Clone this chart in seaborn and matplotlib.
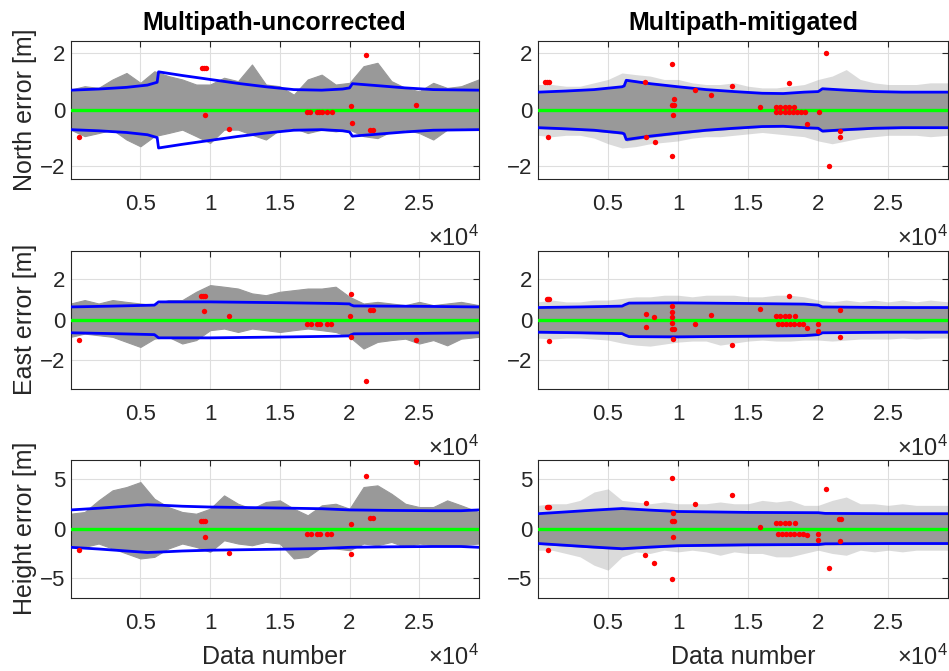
"""
GNSS positioning error: multipath-uncorrected vs multipath-mitigated
"""

import seaborn as sns
import matplotlib.pyplot as plt

# Sample positions where the spread of the gray error cloud was read
grid_x = [0, 1000, 2000, 3000, 4000, 5000, 6000, 7000, 8000, 9000,
          10000, 11000, 12000, 13000, 14000, 15000, 16000, 17000, 18000, 19000,
          20000, 21000, 22000, 23000, 24000, 25000, 26000, 27000, 28000, 29260]

# Gray cloud upper / lower edge [m]
north_unc_hi = [0.72, 0.84, 0.78, 1.08, 1.31, 0.96, 1.37, 1.20, 1.08, 0.90,
                0.90, 1.14, 1.02, 1.61, 0.90, 0.84, 0.54, 1.08, 1.25, 0.90,
                0.96, 1.55, 1.67, 1.02, 0.78, 0.66, 0.96, 0.78, 0.84, 1.08]
north_unc_lo = [-0.70, -0.93, -0.82, -0.70, -1.05, -1.29, -0.93, -0.82, -0.70, -0.93,
                -1.17, -0.70, -0.70, -0.88, -1.05, -0.70, -0.64, -0.82, -0.70, -0.76,
                -0.70, -0.93, -1.00, -0.76, -0.70, -0.82, -1.05, -0.70, -0.64, -0.70]
north_mit_hi = [0.90, 0.90, 0.84, 0.84, 0.96, 1.08, 1.31, 1.25, 1.20, 1.08,
                1.08, 0.96, 0.90, 0.90, 0.96, 0.84, 0.78, 0.78, 0.84, 0.90,
                1.08, 1.20, 1.43, 1.08, 0.96, 0.90, 0.90, 0.90, 0.96, 0.96]
north_mit_lo = [-0.90, -0.95, -0.90, -0.90, -1.00, -1.20, -1.35, -1.30, -1.20, -1.15,
                -1.10, -1.00, -0.95, -0.95, -0.90, -0.85, -0.80, -0.85, -0.90, -0.95,
                -1.10, -1.20, -1.10, -1.00, -0.95, -0.90, -0.90, -0.90, -0.95, -0.90]
east_unc_hi = [0.81, 0.98, 0.81, 0.98, 0.89, 0.81, 0.73, 0.98, 0.98, 1.39,
               1.72, 1.64, 1.55, 1.31, 1.22, 1.39, 1.47, 1.55, 1.55, 1.64,
               1.14, 0.81, 0.89, 0.81, 0.73, 0.89, 0.73, 0.81, 0.89, 0.73]
east_unc_lo = [-0.84, -0.68, -0.76, -0.84, -1.09, -1.34, -0.93, -0.84, -1.17, -1.00,
               -0.51, -0.43, -0.60, -0.43, -0.51, -0.60, -0.51, -0.43, -0.51, -0.60,
               -0.84, -1.42, -1.09, -1.00, -0.93, -1.17, -1.00, -1.26, -0.93, -0.84]
east_mit_hi = [0.89, 0.98, 0.89, 0.89, 0.98, 0.98, 1.06, 1.14, 1.14, 1.22,
               1.22, 1.14, 1.22, 1.22, 1.22, 1.14, 1.14, 1.22, 1.22, 1.14,
               0.98, 0.89, 0.98, 0.89, 0.98, 0.89, 0.98, 0.89, 0.98, 0.89]
east_mit_lo = [-0.90, -0.95, -0.90, -0.90, -0.95, -1.00, -1.15, -1.25, -1.30, -1.20,
               -1.10, -1.05, -1.05, -1.25, -1.15, -1.05, -1.00, -1.05, -1.05, -1.00,
               -1.00, -1.05, -1.00, -0.95, -0.95, -0.95, -0.90, -0.95, -0.90, -0.90]
height_unc_hi = [1.50, 1.67, 2.84, 3.85, 4.18, 4.68, 3.00, 2.17, 1.67, 1.50,
                 2.00, 3.34, 2.50, 2.00, 2.68, 2.84, 2.00, 1.34, 2.34, 2.50,
                 2.00, 4.18, 4.35, 3.51, 2.50, 2.17, 2.17, 2.84, 2.34, 1.67]
height_unc_lo = [-1.67, -1.84, -1.50, -2.00, -2.50, -3.00, -2.84, -2.00, -1.50, -1.84,
                 -2.34, -1.17, -1.50, -1.67, -1.34, -1.50, -3.00, -2.84, -1.84, -2.00,
                 -2.17, -1.50, -1.67, -1.34, -1.84, -1.50, -1.67, -1.67, -1.67, -1.50]
height_mit_hi = [2.34, 2.50, 2.50, 2.84, 3.68, 4.00, 2.84, 2.68, 2.50, 2.68,
                 2.50, 2.50, 2.50, 2.68, 2.50, 2.50, 2.84, 2.68, 2.84, 2.34,
                 2.34, 2.84, 3.18, 2.50, 2.50, 2.34, 2.50, 2.34, 2.34, 2.34]
height_mit_lo = [-2.17, -2.17, -2.50, -2.84, -3.68, -4.18, -2.84, -2.34, -2.50, -2.17,
                 -2.34, -2.17, -2.34, -2.68, -2.34, -2.50, -2.50, -2.84, -2.84, -2.50,
                 -2.17, -2.50, -2.68, -2.17, -2.34, -2.17, -2.34, -2.17, -2.17, -2.17]

# Protection bound (blue, +/-) knots
north_unc_bx = [0, 2000, 4000, 5500, 6200, 6300, 8000, 10000, 12000, 14000,
                16000, 18000, 19500, 20000, 20200, 22000, 24000, 26000, 29260]
north_unc_b = [0.70, 0.74, 0.80, 0.88, 0.98, 1.35, 1.22, 1.08, 0.94, 0.82,
               0.72, 0.70, 0.74, 0.78, 0.93, 0.86, 0.78, 0.72, 0.70]
north_mit_bx = [0, 2000, 4000, 6000, 6150, 6300, 8000, 10000, 12000, 14000,
                16000, 17500, 19000, 20000, 20150, 20300, 22000, 24000, 26000, 29260]
north_mit_b = [0.63, 0.67, 0.72, 0.82, 0.85, 1.05, 0.93, 0.82, 0.72, 0.65,
               0.59, 0.58, 0.63, 0.65, 0.70, 0.75, 0.70, 0.65, 0.63, 0.63]
east_unc_bx = [0, 3000, 6000, 6100, 6300, 10000, 15000, 19000, 20000, 20100,
               20300, 25000, 29260]
east_unc_b = [0.64, 0.68, 0.73, 0.78, 0.89, 0.89, 0.85, 0.81, 0.79, 0.74,
              0.69, 0.67, 0.64]
east_mit_bx = [0, 3000, 6000, 6200, 6500, 10000, 15000, 19000, 20000, 20300,
               25000, 29260]
east_mit_b = [0.61, 0.64, 0.68, 0.75, 0.83, 0.84, 0.81, 0.78, 0.73, 0.64,
              0.61, 0.61]
height_unc_bx = [0, 2000, 4000, 5500, 6500, 8000, 10000, 15000, 18000, 20000,
                 23000, 26000, 28000, 29260]
height_unc_b = [1.88, 2.05, 2.25, 2.40, 2.35, 2.25, 2.17, 2.07, 2.00, 1.88,
                1.83, 1.80, 1.80, 1.88]
height_mit_bx = [0, 2000, 4000, 6000, 8000, 10000, 15000, 20000, 20500, 25000, 29260]
height_mit_b = [1.50, 1.68, 1.86, 2.02, 1.86, 1.72, 1.63, 1.60, 1.53, 1.50, 1.50]

# Flagged epochs (red)
north_unc_rx = [600, 9400, 9550, 9700, 9640, 11320, 16940, 17180, 17660, 17800,
                18010, 18370, 18730, 20120, 20170, 21200, 21500, 21700, 24780]
north_unc_ry = [-0.96, 1.47, 1.47, 1.47, -0.18, -0.69, -0.08, -0.08, -0.08, -0.08,
                -0.08, -0.08, -0.08, 0.15, -0.46, 1.94, -0.70, -0.70, 0.18]
north_mit_rx = [500, 650, 800, 740, 7620, 7700, 8340, 9600, 9690, 9600,
                9700, 9640, 9600, 11230, 12350, 13820, 15820, 17010, 17300, 17600,
                17900, 18300, 17010, 17300, 17600, 17900, 18200, 18500, 18800, 19030,
                17930, 19170, 20050, 20570, 20760, 21570, 21570]
north_mit_ry = [0.99, 0.99, 0.99, -0.97, 0.99, -0.96, -1.12, 1.64, 0.38, 0.19,
                0.19, -0.18, -1.63, 0.69, 0.54, 0.83, 0.12, 0.12, 0.12, 0.12,
                0.12, 0.12, -0.08, -0.08, -0.08, -0.08, -0.08, -0.08, -0.08, -0.08,
                0.97, -0.49, -0.08, 2.02, -1.99, -0.73, -0.96]
east_unc_rx = [620, 9350, 9500, 9650, 9590, 11320, 16940, 17200, 17700, 17900,
               18400, 18700, 20120, 20050, 20120, 21200, 21500, 21700, 24780]
east_unc_ry = [-1.02, 1.19, 1.19, 1.19, 0.43, 0.18, -0.18, -0.18, -0.18, -0.18,
               -0.18, -0.18, 1.26, 0.21, -0.84, -3.02, 0.51, 0.51, -0.98]
east_mit_rx = [620, 720, 810, 780, 7700, 7700, 8290, 9600, 9600, 9600,
               9600, 9600, 9700, 9640, 11240, 12350, 13820, 15820, 17010, 17300,
               17600, 17900, 18310, 17130, 17400, 17700, 18000, 18300, 18600, 18910,
               17930, 19170, 20020, 20020, 21570, 21570]
east_mit_ry = [1.02, 1.02, 1.02, -1.04, 0.31, -0.33, 0.12, 0.71, 0.41, 0.13,
               -0.15, -0.45, -0.45, -0.93, -0.20, 0.23, -1.22, 0.55, 0.18, 0.18,
               0.18, 0.18, 0.18, -0.20, -0.20, -0.20, -0.20, -0.20, -0.20, -0.20,
               1.17, -0.41, -0.20, -0.56, 0.50, -0.86]
height_unc_rx = [600, 9350, 9500, 9650, 9620, 11320, 16940, 17200, 17700, 17900,
                 18400, 18700, 20100, 20120, 21170, 21500, 21700, 24780]
height_unc_ry = [-2.14, 0.80, 0.80, 0.80, -0.80, -2.47, -0.54, -0.54, -0.54, -0.54,
                 -0.54, -0.54, 0.50, -2.54, 5.28, 1.04, 1.04, 6.69]
height_mit_rx = [620, 720, 810, 740, 7700, 7670, 8310, 9600, 9640, 9600,
                 9710, 9640, 9600, 11230, 13820, 15820, 17010, 17300, 17600, 17900,
                 18310, 17130, 17400, 17700, 18000, 18300, 18600, 18910, 19170, 20020,
                 20020, 20590, 20780, 21500, 21650, 21570]
height_mit_ry = [2.14, 2.14, 2.14, -2.14, 2.61, -2.68, -3.41, 5.05, 1.57, 0.80,
                 0.80, -0.80, -5.08, 2.44, 3.38, 0.20, 0.54, 0.54, 0.54, 0.54,
                 0.54, -0.54, -0.54, -0.54, -0.54, -0.54, -0.54, -0.54, -0.67, -0.54,
                 -1.17, 3.95, -3.95, 0.97, 0.97, -1.24]

col_titles = ["Multipath-uncorrected", "Multipath-mitigated"]
row_labels = ["North error [m]", "East error [m]", "Height error [m]"]
row_ylims = [2.45, 3.42, 6.95]
row_yticks = [[-2, 0, 2], [-2, 0, 2], [-5, 0, 5]]
x_ticks = [5000, 10000, 15000, 20000, 25000]
x_ticklabels = ["0.5", "1", "1.5", "2", "2.5"]
x_max = 29260

panels = [
    [(north_unc_hi, north_unc_lo, north_unc_bx, north_unc_b, north_unc_rx, north_unc_ry),
     (north_mit_hi, north_mit_lo, north_mit_bx, north_mit_b, north_mit_rx, north_mit_ry)],
    [(east_unc_hi, east_unc_lo, east_unc_bx, east_unc_b, east_unc_rx, east_unc_ry),
     (east_mit_hi, east_mit_lo, east_mit_bx, east_mit_b, east_mit_rx, east_mit_ry)],
    [(height_unc_hi, height_unc_lo, height_unc_bx, height_unc_b, height_unc_rx, height_unc_ry),
     (height_mit_hi, height_mit_lo, height_mit_bx, height_mit_b, height_mit_rx, height_mit_ry)],
]

sns.set_style("white")
plt.rcParams["font.family"] = ["Liberation Sans", "DejaVu Sans"]
plt.rcParams["mathtext.fontset"] = "custom"
plt.rcParams["mathtext.rm"] = "Liberation Sans"
plt.rcParams["mathtext.it"] = "Liberation Sans"
text_col = "#262626"

fig = plt.figure(figsize=(9.49, 6.71), dpi=100)

lefts = [0.0745, 0.5669]
widths = [0.4299, 0.4320]
bottoms = [0.7332, 0.4203, 0.1092]
height = 0.2060

cloud_col = "#999999"

for r in range(3):
    for c in range(2):
        hi, lo, bx, b, rx, ry = panels[r][c]
        ax = fig.add_axes([lefts[c], bottoms[r], widths[c], height])

        # gray error cloud
        if c == 0:
            ax.fill_between(grid_x, lo, hi, color=cloud_col, lw=0.8, zorder=2)
        else:
            ax.fill_between(grid_x, lo, hi, color=cloud_col, alpha=0.35, lw=0, zorder=2)
            ax.fill_between(bx, [-v * 1.05 for v in b], [v * 1.05 for v in b],
                            color=cloud_col, lw=0, zorder=2)

        # bounds
        sns.lineplot(x=bx, y=b, ax=ax, color="#0000ff", lw=2.0, zorder=3)
        sns.lineplot(x=bx, y=[-v for v in b], ax=ax, color="#0000ff", lw=2.0, zorder=3)
        # zero line
        sns.lineplot(x=[0, x_max], y=[0, 0], ax=ax, color="#00ff00", lw=2.4, zorder=4)
        # flagged
        sns.scatterplot(x=rx, y=ry, ax=ax, color="#ff0000", s=15, linewidth=0, zorder=5)

        ax.set_xlim(0, x_max)
        ax.set_ylim(-row_ylims[r], row_ylims[r])
        ax.set_xticks(x_ticks)
        ax.set_xticklabels(x_ticklabels)
        ax.set_yticks(row_yticks[r])
        ax.grid(True, color="#dedede", lw=0.8)
        ax.set_axisbelow(True)
        ax.tick_params(direction="in", length=4, width=0.8, colors=text_col,
                       labelsize=16, top=True, right=True)
        ax.tick_params(axis="x", pad=11)
        ax.tick_params(axis="y", pad=4)
        for sp in ax.spines.values():
            sp.set_color(text_col)
            sp.set_linewidth(0.8)
            sp.set_visible(True)

        if c == 0:
            ax.set_ylabel(row_labels[r], fontsize=18, color=text_col, labelpad=2)
        if r == 0:
            ax.set_title(col_titles[c], fontsize=18, fontweight="bold", color="black", pad=8)
        if r == 2:
            ax.set_xlabel("Data number", fontsize=18, color=text_col, labelpad=8)

        ax.annotate("×10$^{4}$", xy=(1, 0), xycoords="axes fraction",
                    xytext=(0, -43), textcoords="offset points",
                    ha="right", va="center", fontsize=17, color=text_col)

plt.savefig("out.png", dpi=100)
